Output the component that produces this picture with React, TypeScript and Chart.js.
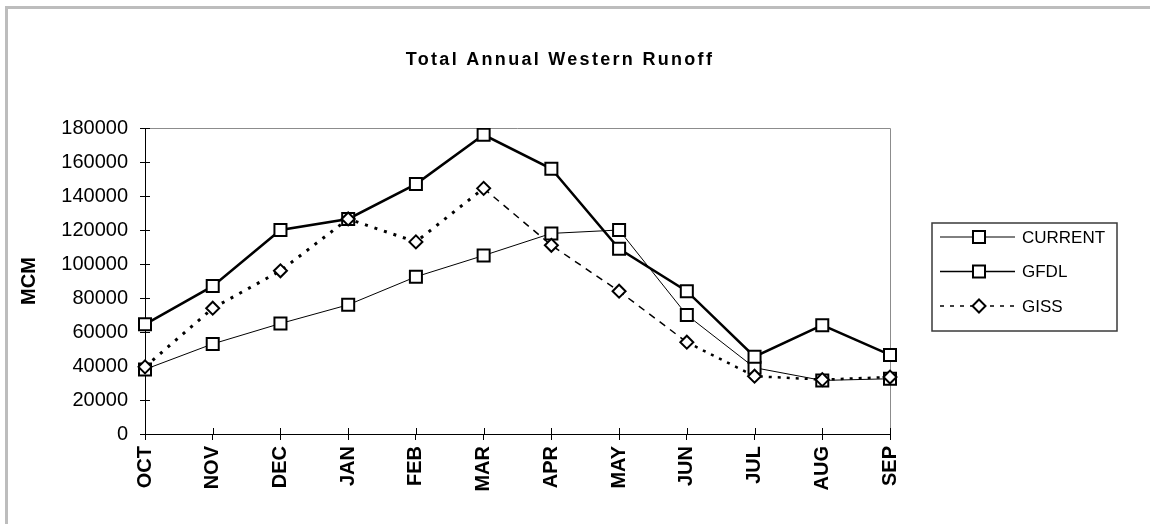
import React, { useEffect, useRef } from 'react';
import { Chart, registerables } from 'chart.js';

Chart.register(...registerables);

const months = ['OCT', 'NOV', 'DEC', 'JAN', 'FEB', 'MAR', 'APR', 'MAY', 'JUN', 'JUL', 'AUG', 'SEP'];
const currentRunoff = [38000, 53000, 65000, 76000, 92500, 105000, 118000, 120000, 70000, 39000, 31500, 32500];
const gfdlRunoff = [64500, 87000, 120000, 126500, 147000, 176000, 156000, 109000, 84000, 45500, 64000, 46500];
const gissRunoff = [39500, 74000, 96000, 126500, 113000, 144500, 111000, 84000, 54000, 34000, 32000, 33500];
const seriesNames = ['CURRENT', 'GFDL', 'GISS'];
const yMin = 0;
const yMax = 180000;
const yStep = 20000;
const chartTitle = 'Total Annual Western Runoff';
const yAxisTitle = 'MCM';

const FONT = '"Liberation Sans", Arial, Helvetica, sans-serif';

const framePlugin = {
  id: 'frame',
  beforeDraw(chart: any) {
    const ctx = chart.ctx;
    ctx.save();
    ctx.fillStyle = '#ffffff';
    ctx.fillRect(0, 0, chart.width, chart.height);
    ctx.fillStyle = '#bdbdbd';
    ctx.fillRect(5, 6, chart.width - 5, 3);
    ctx.fillRect(5, 6, 3, chart.height - 6);
    ctx.restore();
  },
};

const plotBoxPlugin = {
  id: 'plotBox',
  beforeDatasetsDraw(chart: any) {
    const { ctx, chartArea } = chart;
    const { left, right, top, bottom } = chartArea;
    ctx.save();
    ctx.strokeStyle = '#8c8c8c';
    ctx.lineWidth = 1;
    ctx.beginPath();
    ctx.moveTo(left, Math.round(top) + 0.5);
    ctx.lineTo(Math.round(right) + 0.5, Math.round(top) + 0.5);
    ctx.lineTo(Math.round(right) + 0.5, bottom);
    ctx.stroke();
    // inner halves of the crossing tick marks
    ctx.strokeStyle = '#000';
    ctx.beginPath();
    const ys = chart.scales.y;
    ys.ticks.forEach((_t: any, i: number) => {
      const y = Math.round(ys.getPixelForTick(i)) + 0.5;
      ctx.moveTo(left, y);
      ctx.lineTo(left + 5, y);
    });
    const xs = chart.scales.x;
    xs.ticks.forEach((_t: any, i: number) => {
      const x = Math.round(xs.getPixelForTick(i)) + 0.5;
      ctx.moveTo(x, bottom);
      ctx.lineTo(x, bottom - 6);
    });
    ctx.stroke();
    ctx.restore();
  },
};

const titlePlugin = {
  id: 'customTitle',
  afterDraw(chart: any) {
    const ctx = chart.ctx;
    ctx.save();
    ctx.fillStyle = '#000';
    ctx.font = `bold 18px ${FONT}`;
    (ctx as any).letterSpacing = '2.3px';
    ctx.textAlign = 'center';
    ctx.textBaseline = 'middle';
    ctx.fillText(chartTitle, 560, 60);
    ctx.restore();
  },
};

function drawMarker(ctx: CanvasRenderingContext2D, style: string, x: number, y: number, r: number) {
  ctx.beginPath();
  if (style === 'rectRot') {
    ctx.moveTo(x, y - r);
    ctx.lineTo(x + r, y);
    ctx.lineTo(x, y + r);
    ctx.lineTo(x - r, y);
    ctx.closePath();
  } else {
    const s = Math.SQRT1_2 * r;
    ctx.rect(x - s, y - s, 2 * s, 2 * s);
  }
  ctx.fill();
  ctx.stroke();
}

const legendPlugin = {
  id: 'boxLegend',
  afterDraw(chart: any) {
    const ctx: CanvasRenderingContext2D = chart.ctx;
    const boxL = 932, boxT = 223, boxR = 1117, boxB = 331;
    ctx.save();
    ctx.strokeStyle = '#3a3a3a';
    ctx.lineWidth = 1.5;
    ctx.strokeRect(boxL, boxT, boxR - boxL, boxB - boxT);
    chart.data.datasets.forEach((ds: any, i: number) => {
      const y = 237 + i * 34.5;
      ctx.strokeStyle = '#000';
      ctx.lineWidth = ds.legendLineWidth;
      ctx.setLineDash(ds.legendDash || []);
      ctx.beginPath();
      ctx.moveTo(940, y);
      ctx.lineTo(1015, y);
      ctx.stroke();
      ctx.setLineDash([]);
      ctx.fillStyle = '#fff';
      ctx.lineWidth = 2;
      drawMarker(ctx, ds.pointStyle, 979, y, ds.pointRadius);
      ctx.fillStyle = '#000';
      ctx.font = `17px ${FONT}`;
      ctx.textAlign = 'left';
      ctx.textBaseline = 'middle';
      ctx.fillText(ds.label, 1022, y + 1);
    });
    ctx.restore();
  },
};

export default function App() {
  const ref = useRef<HTMLCanvasElement>(null);
  useEffect(() => {
    const canvas = ref.current;
    if (!canvas) return;
    const chart = new Chart(canvas, {
      type: 'line',
      data: {
        labels: months,
        datasets: [
          {
            label: seriesNames[0],
            data: currentRunoff,
            borderColor: '#000',
            borderWidth: 1,
            pointStyle: 'rect',
            pointRadius: 8.5,
            pointBorderWidth: 2,
            pointBackgroundColor: '#fff',
            pointBorderColor: '#000',
            tension: 0,
            order: 2,
            legendLineWidth: 1,
          } as any,
          {
            label: seriesNames[1],
            data: gfdlRunoff,
            borderColor: '#000',
            borderWidth: 2.5,
            pointStyle: 'rect',
            pointRadius: 8.5,
            pointBorderWidth: 2,
            pointBackgroundColor: '#fff',
            pointBorderColor: '#000',
            tension: 0,
            order: 1,
            legendLineWidth: 1.5,
          } as any,
          {
            label: seriesNames[2],
            data: gissRunoff,
            borderColor: '#000',
            borderWidth: 2,
            borderDash: [4, 6],
            segment: {
              borderDash: (c: any) => (c.p0DataIndex < 5 ? [3, 7] : c.p0DataIndex < 8 ? [7, 6] : [3, 6]),
              borderWidth: (c: any) => (c.p0DataIndex < 5 ? 3 : c.p0DataIndex < 8 ? 1.5 : 2.5),
            },
            pointStyle: 'rectRot',
            pointRadius: 6.5,
            pointBorderWidth: 2,
            pointBackgroundColor: '#fff',
            pointBorderColor: '#000',
            tension: 0,
            order: 0,
            legendLineWidth: 1.5,
            legendDash: [4, 6],
          } as any,
        ],
      },
      options: {
        responsive: false,
        animation: false,
        devicePixelRatio: 1,
        layout: { padding: { top: 128, right: 260, bottom: 0, left: 0 } },
        plugins: {
          legend: { display: false },
          title: { display: false },
          tooltip: { enabled: false },
        },
        scales: {
          x: {
            type: 'category',
            offset: false,
            afterFit: (s: any) => {
              s.height = 90;
            },
            grid: {
              drawOnChartArea: false,
              color: '#000',
              tickColor: '#000',
              tickLength: 6,
            },
            border: { display: true, color: '#000', width: 1 },
            ticks: {
              autoSkip: false,
              minRotation: 90,
              maxRotation: 90,
              padding: 6,
              color: '#000',
              font: { family: FONT, size: 20, weight: 'bold' },
            },
          },
          y: {
            min: yMin,
            max: yMax,
            afterFit: (s: any) => {
              s.width = 145;
            },
            grid: {
              drawOnChartArea: false,
              color: '#000',
              tickColor: '#000',
              tickLength: 5,
            },
            border: { display: true, color: '#000', width: 1 },
            ticks: {
              stepSize: yStep,
              padding: 12,
              color: '#000',
              font: { family: FONT, size: 20 },
              callback: (v: any) => String(v),
            },
            title: {
              display: true,
              text: yAxisTitle,
              color: '#000',
              font: { family: FONT, size: 20, weight: 'bold' },
              padding: { top: 17, bottom: 0 },
            },
          },
        },
      } as any,
      plugins: [framePlugin, plotBoxPlugin, titlePlugin, legendPlugin],
    });
    return () => chart.destroy();
  }, []);
  return (
    <div style={{ position: 'absolute', left: 0, top: 0, width: 1150, height: 524 }}>
      <canvas ref={ref} width={1150} height={524} style={{ display: 'block', width: 1150, height: 524 }} />
    </div>
  );
}
